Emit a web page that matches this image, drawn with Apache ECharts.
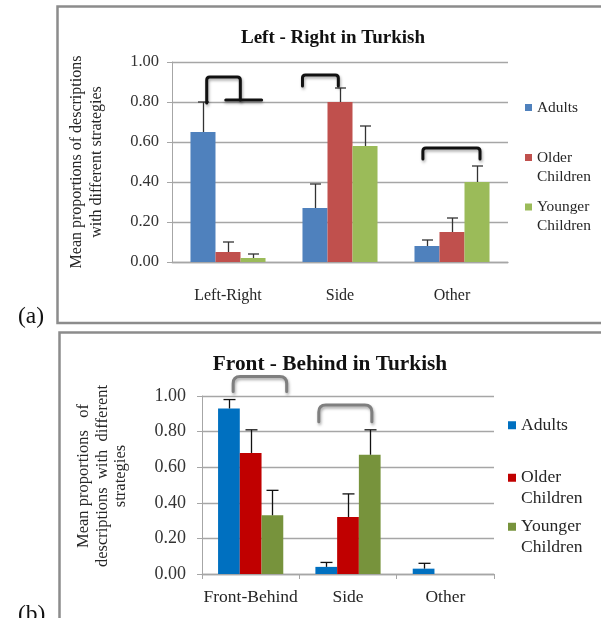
<!DOCTYPE html>
<html><head><meta charset="utf-8">
<script src="https://cdn.jsdelivr.net/npm/echarts@6/dist/echarts.min.js"></script>
<style>html,body{margin:0;padding:0;background:#fff}#c{width:601px;height:618px}</style>
</head><body><div id="c"></div>
<script>
// ---------- data ----------
const categoriesA = ['Left-Right', 'Side', 'Other'];
const categoriesB = ['Front-Behind', 'Side', 'Other'];
const groupNames = ['Adults', 'Older Children', 'Younger Children'];
const yTickValues = [0, 0.2, 0.4, 0.6, 0.8, 1.0];

// Panel (a): Left - Right in Turkish
const adultsA = [0.65, 0.27, 0.08];
const olderA = [0.05, 0.80, 0.15];
const youngerA = [0.02, 0.58, 0.40];
const adultsErrA = [0.15, 0.12, 0.03];
const olderErrA = [0.05, 0.07, 0.07];
const youngerErrA = [0.02, 0.10, 0.08];
// brackets: [xStart, xEnd, yLeftEnd, yTop, yRightEnd]  (x in category units)
const bracketsA = [[-0.19, 0.11, 0.795, 0.925, 0.81], [0.665, 0.985, 0.88, 0.935, 0.88], [1.74, 2.25, 0.515, 0.57, 0.515]];
const bracketTailsA = [[-0.02, 0.30, 0.81]];

// Panel (b): Front - Behind in Turkish
const adultsB = [0.93, 0.04, 0.03];
const olderB = [0.68, 0.32, 0];
const youngerB = [0.33, 0.67, 0];
const adultsErrB = [0.05, 0.025, 0.03];
const olderErrB = [0.13, 0.13, 0];
const youngerErrB = [0.14, 0.14, 0];
const bracketsB = [[-0.18, 0.37, 1.025, 1.11, 1.025], [0.70, 1.245, 0.855, 0.95, 0.855]];

// ---------- style ----------
const FONT = "'Liberation Serif', 'Times New Roman', serif";
const colorsA = ['#4F81BD', '#C0504D', '#9BBB59'];
const colorsB = ['#0070C0', '#C00000', '#77933C'];
const GAP = 0.33;
const gridColor = '#a6a6a6';

const chart = echarts.init(document.getElementById('c'), null, {renderer: 'canvas'});

function errSeries(xi, yi, pos, vals, errs, capW, color, lw) {
  return {
    type: 'custom', xAxisIndex: xi, yAxisIndex: yi, z: 5, silent: true,
    data: vals.map((v, i) => [i, v, errs[i]]),
    encode: {x: 0, y: 1},
    renderItem: function (params, api) {
      const e = api.value(2);
      if (!(e > 0)) return null;
      const ci = api.value(0), v = api.value(1);
      const bw = api.size([1, 0])[0];
      const barW = bw * (1 - GAP) / 3;
      const p0 = api.coord([ci, v]);
      const p1 = api.coord([ci, v + e]);
      const x = Math.round(p0[0] + (pos - 1) * barW) + 0.5;
      const st = {stroke: color, lineWidth: lw};
      return {type: 'group', children: [
        {type: 'line', shape: {x1: x, y1: p0[1], x2: x, y2: p1[1]}, style: st},
        {type: 'line', shape: {x1: x - capW / 2, y1: p1[1], x2: x + capW / 2, y2: p1[1]}, style: st}
      ]};
    }
  };
}

function bracketSeries(xi, yi, data, color, lw, r, shadow) {
  return {
    type: 'custom', xAxisIndex: xi, yAxisIndex: yi, z: 6, silent: true, clip: false,
    data: data,
    encode: {x: [0, 1], y: [2, 3, 4]},
    renderItem: function (params, api) {
      const a = api.coord([api.value(0), api.value(2)]);
      const t = api.coord([api.value(0), api.value(3)]);
      const b = api.coord([api.value(1), api.value(4)]);
      const xa = a[0], xb = b[0], yt = t[1];
      const d = `M${xa} ${a[1]} L${xa} ${yt + r} Q${xa} ${yt} ${xa + r} ${yt} L${xb - r} ${yt} Q${xb} ${yt} ${xb} ${yt + r} L${xb} ${b[1]}`;
      const style = {stroke: color, lineWidth: lw, fill: null, lineJoin: 'round', lineCap: 'round'};
      if (shadow) { style.shadowBlur = 3; style.shadowColor = 'rgba(0,0,0,0.35)'; style.shadowOffsetY = 2; style.shadowOffsetX = 1; }
      return {type: 'path', shape: {pathData: d}, style: style};
    }
  };
}

function tailSeries(xi, yi, data, color, lw) {
  return {
    type: 'custom', xAxisIndex: xi, yAxisIndex: yi, z: 6, silent: true, clip: false,
    data: data,
    encode: {x: [0, 1], y: 2},
    renderItem: function (params, api) {
      const a = api.coord([api.value(0), api.value(2)]);
      const b = api.coord([api.value(1), api.value(2)]);
      return {type: 'line', shape: {x1: a[0], y1: a[1], x2: b[0], y2: b[1]},
        style: {stroke: color, lineWidth: lw, lineCap: 'round', shadowBlur: 3, shadowColor: 'rgba(0,0,0,0.3)', shadowOffsetY: 2}};
    }
  };
}

function legendItem(name, color, left, top, iw, fs, lh, multi) {
  return {
    show: true, left: left, top: top, orient: 'vertical', padding: 0, selectedMode: false,
    icon: 'rect', itemWidth: iw, itemHeight: iw,
    data: [{name: name, itemStyle: {color: color}}],
    formatter: n => (multi ? '\n' : '') + n.replace(' ', '\n'),
    textStyle: {fontFamily: FONT, fontSize: fs, lineHeight: lh, color: '#262626'}
  };
}

const yAxisBase = (gi, fs, margin, name, nameGap, nfs, nlh, npad) => ({
  gridIndex: gi, type: 'value', min: yTickValues[0], max: yTickValues[yTickValues.length - 1], interval: yTickValues[1] - yTickValues[0],
  axisLine: {show: true, onZero: false, lineStyle: {color: gridColor, width: 1}},
  axisTick: {show: true, length: 5, lineStyle: {color: gridColor}},
  splitLine: {show: true, lineStyle: {color: gridColor, width: 1.3}},
  axisLabel: {fontFamily: FONT, fontSize: fs, color: '#333', margin: margin, formatter: v => v.toFixed(2)},
  name: name, nameLocation: 'middle', nameRotate: 90, nameGap: nameGap,
  nameTextStyle: {fontFamily: FONT, fontSize: nfs, lineHeight: nlh, color: '#262626', align: 'center', padding: npad}
});

const option = {
  animation: false,
  backgroundColor: '#fff',
  title: [
    {text: 'Left - Right in Turkish', left: 333, top: 29, textAlign: 'center', padding: 0,
     textStyle: {fontFamily: FONT, fontSize: 19, fontWeight: 'bold', color: '#111'}},
    {text: 'Front - Behind in Turkish', left: 330, top: 354, textAlign: 'center', padding: 0,
     textStyle: {fontFamily: FONT, fontSize: 21.3, fontWeight: 'bold', color: '#111'}}
  ],
  legend: [
    legendItem(groupNames[0], colorsA[0], 525, 98, 7, 15.4, 19, false),
    legendItem(groupNames[1], colorsA[1], 525, 129, 7, 15.4, 19, true),
    legendItem(groupNames[2], colorsA[2], 525, 178.5, 7, 15.4, 19, true),
    legendItem(groupNames[0], colorsB[0], 508, 415, 8, 17.6, 20.5, false),
    legendItem(groupNames[1], colorsB[1], 508, 447, 8, 17.6, 20.5, true),
    legendItem(groupNames[2], colorsB[2], 508, 496, 8, 17.6, 20.5, true)
  ],
  grid: [
    {left: 172, top: 62, width: 336, height: 200, outerBoundsMode: 'none', containLabel: false},
    {left: 202, top: 396, width: 292, height: 178, outerBoundsMode: 'none', containLabel: false}
  ],
  xAxis: [
    {gridIndex: 0, type: 'category', data: categoriesA,
     axisLine: {show: true, onZero: false, lineStyle: {color: gridColor, width: 1.3}}, axisTick: {show: false},
     axisLabel: {fontFamily: FONT, fontSize: 16, color: '#262626', margin: 26, interval: 0}},
    {gridIndex: 0, type: 'value', min: -0.5, max: 2.5, show: false},
    {gridIndex: 1, type: 'category', data: categoriesB,
     axisLine: {show: true, onZero: false, lineStyle: {color: gridColor, width: 1.3}},
     axisTick: {show: true, length: 5, alignWithLabel: false, interval: 0, lineStyle: {color: gridColor}},
     axisLabel: {fontFamily: FONT, fontSize: 17.5, color: '#262626', margin: 14, interval: 0}},
    {gridIndex: 1, type: 'value', min: -0.5, max: 2.5, show: false}
  ],
  yAxis: [
    yAxisBase(0, 16.5, 13, 'Mean proportions of descriptions\nwith different strategies', 66, 16, 19.4, 0),
    yAxisBase(1, 18, 16, 'Mean proportions   of\ndescriptions  with  different\nstrategies', 72, 16.5, 18.5, [0, 0, 0, 18])
  ],
  graphic: [
    {type: 'rect', shape: {x: 57.5, y: 6.5, width: 600, height: 316.5}, style: {fill: null, stroke: '#8c8c8c', lineWidth: 2.5}, silent: true},
    {type: 'rect', shape: {x: 59.5, y: 332.5, width: 600, height: 400}, style: {fill: null, stroke: '#8c8c8c', lineWidth: 2.5}, silent: true},
    {type: 'text', left: 18, top: 305, style: {text: '(a)', fontFamily: FONT, fontSize: 23.5, fill: '#111'}},
    {type: 'text', left: 18, top: 603, style: {text: '(b)', fontFamily: FONT, fontSize: 23.5, fill: '#111'}}
  ],
  series: [
    {name: groupNames[0], type: 'bar', xAxisIndex: 0, yAxisIndex: 0, data: adultsA, itemStyle: {color: colorsA[0]}, barGap: '0%', barCategoryGap: '33%'},
    {name: groupNames[1], type: 'bar', xAxisIndex: 0, yAxisIndex: 0, data: olderA, itemStyle: {color: colorsA[1]}, barGap: '0%', barCategoryGap: '33%'},
    {name: groupNames[2], type: 'bar', xAxisIndex: 0, yAxisIndex: 0, data: youngerA, itemStyle: {color: colorsA[2]}, barGap: '0%', barCategoryGap: '33%'},
    {name: groupNames[0], type: 'bar', xAxisIndex: 2, yAxisIndex: 1, data: adultsB, itemStyle: {color: colorsB[0]}, barGap: '0%', barCategoryGap: '33%'},
    {name: groupNames[1], type: 'bar', xAxisIndex: 2, yAxisIndex: 1, data: olderB, itemStyle: {color: colorsB[1]}, barGap: '0%', barCategoryGap: '33%'},
    {name: groupNames[2], type: 'bar', xAxisIndex: 2, yAxisIndex: 1, data: youngerB, itemStyle: {color: colorsB[2]}, barGap: '0%', barCategoryGap: '33%'},
    errSeries(0, 0, 0, adultsA, adultsErrA, 11, '#333', 1.3),
    errSeries(0, 0, 1, olderA, olderErrA, 11, '#333', 1.3),
    errSeries(0, 0, 2, youngerA, youngerErrA, 11, '#333', 1.3),
    errSeries(2, 1, 0, adultsB, adultsErrB, 12, '#111', 1.3),
    errSeries(2, 1, 1, olderB, olderErrB, 12, '#111', 1.3),
    errSeries(2, 1, 2, youngerB, youngerErrB, 12, '#111', 1.3),
    bracketSeries(1, 0, bracketsA, '#111', 3, 3, true),
    tailSeries(1, 0, bracketTailsA, '#111', 3),
    bracketSeries(3, 1, bracketsB, '#7f7f7f', 3, 7, true)
  ]
};
chart.setOption(option);
</script></body></html>
